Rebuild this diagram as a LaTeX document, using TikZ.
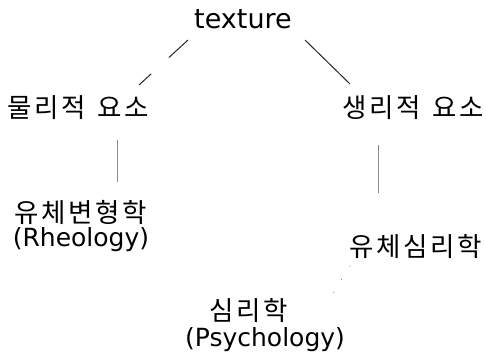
\documentclass[tikz,border=0pt]{standalone}
\usepackage{fontspec}
\setmainfont{DejaVu Sans}
\newfontfamily\kr[LetterSpace=10]{Noto Sans CJK KR}
\begin{document}
\begin{tikzpicture}[x=1pt,y=-1pt,
  lat/.style={font=\fontsize{25}{29}\selectfont, inner sep=0pt},
  kor/.style={font=\kr\fontsize{26.5}{30}\selectfont, inner sep=0pt},
  link/.style={line width=1pt, black!85},
  faint/.style={line width=0.8pt, black!45}]
\useasboundingbox (0,0) rectangle (486,360);
\node[lat, font=\fontsize{27}{30}\selectfont] (tex) at (243,19) {texture};
\node[kor] (phys) at (78,108) {물리적\hspace{0.45em}요소};
\node[kor] (phio) at (413,108) {생리적\hspace{0.45em}요소};
\node[kor] (rheo) at (81,212) {유체변형학};
\node[lat] (rheoen) at (81,240) {(Rheology)};
\node[kor] (psyr) at (416,247) {유체심리학};
\node[kor] (psy) at (249,311) {심리학};
\node[lat] (psyen) at (265,340) {(Psychology)};
\coordinate (a1) at (188,40); \coordinate (a2) at (139,85);
\coordinate (b1) at (305,40); \coordinate (b2) at (350,84);
\coordinate (c1) at (117,140); \coordinate (c2) at (117,182);
\coordinate (d1) at (378,145); \coordinate (d2) at (378,193);
\coordinate (e1) at (350,266); \coordinate (e2) at (333,293);
\draw[link, dash pattern=on 26pt off 24pt on 30pt] (a1) -- (a2);
\draw[link] (b1) -- (b2);
\draw[faint] (c1) -- (c2);
\draw[faint] (d1) -- (d2);
\draw[faint, line cap=round, dash pattern=on 0.5pt off 15pt] (e1) -- (e2);
\end{tikzpicture}
\end{document}
